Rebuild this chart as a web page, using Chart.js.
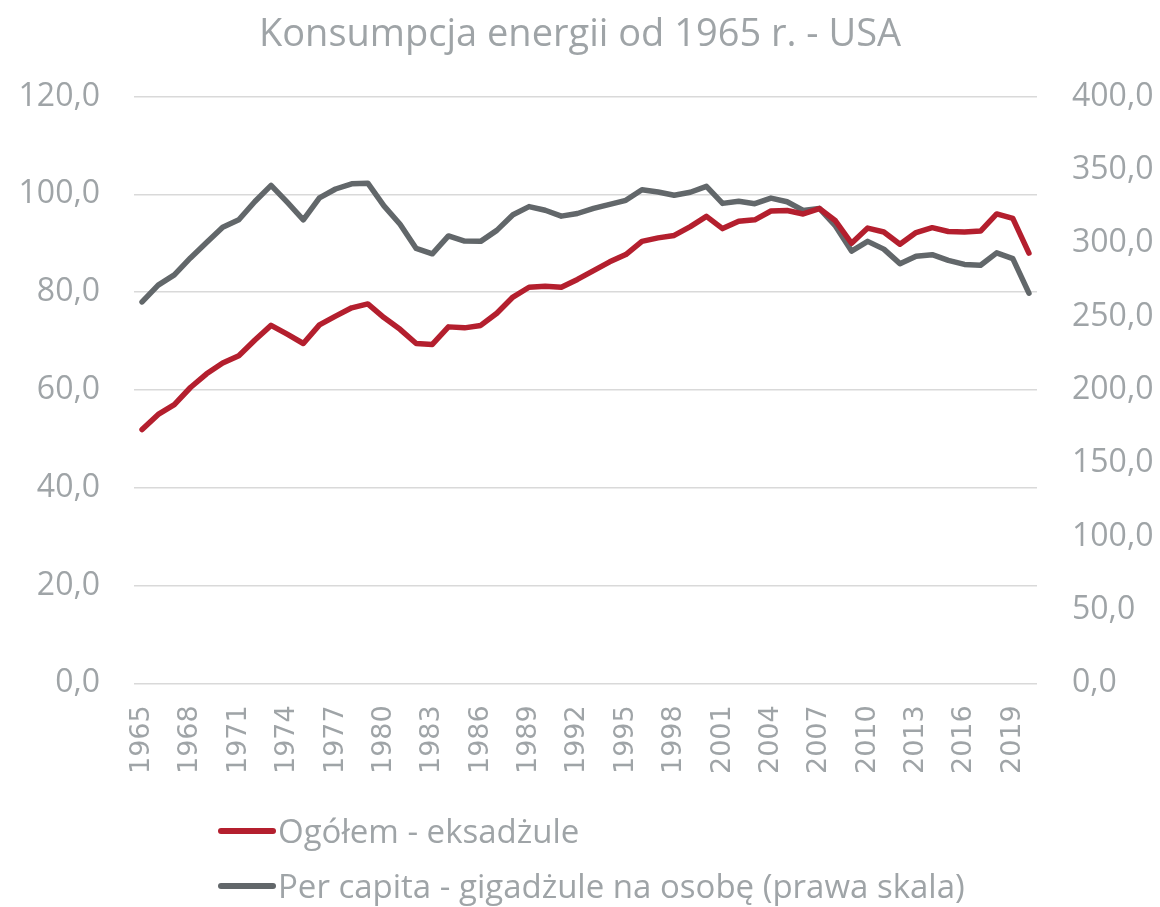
<!DOCTYPE html>
<html>
<head>
<meta charset="utf-8">
<script src="https://cdn.jsdelivr.net/npm/chart.js@4/dist/chart.umd.min.js"></script>
<style>
    body { margin: 0; background: #fff; }
    #wrap { position: relative; width: 1160px; height: 907px; }
    #box { position: absolute; left: 0; top: 0; width: 1160px; height: 817px; }
    #legend { position: absolute; left: 218px; top: 803px; font-family: 'Open Sans', sans-serif; font-size: 33px; color: #9fa4a7; }
    .item { display: flex; align-items: center; height: 55px; }
    .swatch { display: inline-block; width: 58px; height: 6px; border-radius: 3px; margin-right: 2px; }
</style>
</head>
<body>
<div id="wrap">
    <div id="box"><canvas id="chart"></canvas></div>
    <div id="legend"></div>
</div>
<script>
const years = [];
for (let y = 1965; y <= 2020; y++) years.push(String(y));

// Ogółem - eksadżule (lewa skala)
const total = [
    51.9, 55.0, 57.0, 60.5, 63.3, 65.5, 67.0, 70.2, 73.2, 71.4,
    69.5, 73.3, 75.1, 76.8, 77.6, 74.8, 72.4, 69.5, 69.3, 72.9,
    72.7, 73.2, 75.7, 79.0, 81.0, 81.2, 81.0, 82.6, 84.4, 86.2,
    87.7, 90.4, 91.1, 91.6, 93.4, 95.5, 93.0, 94.5, 94.8, 96.6,
    96.7, 96.0, 97.1, 94.6, 90.0, 93.1, 92.3, 89.8, 92.2, 93.2,
    92.4, 92.3, 92.5, 96.0, 95.1, 88.0
];

// Per capita - gigadżule na osobę (prawa skala)
const perCapita = [
    260.0, 271.5, 278.5, 290.0, 300.5, 311.0, 316.0, 328.5, 339.5, 328.0,
    316.0, 331.0, 337.0, 340.5, 341.0, 325.5, 313.0, 296.5, 292.8, 305.0,
    301.5, 301.3, 308.8, 319.5, 325.0, 322.5, 318.5, 320.3, 323.8, 326.5,
    329.3, 336.5, 335.0, 332.7, 334.8, 338.8, 327.2, 328.6, 327.0, 330.8,
    328.3, 322.4, 323.8, 311.8, 294.7, 301.3, 296.0, 286.1, 291.2, 292.2,
    288.3, 285.6, 285.0, 293.5, 289.5, 266.0
];

const textColor = '#9fa4a7';
const gridColor = '#d9d9d9';

function fmt(v) {
    return v.toFixed(1).replace('.', ',');
}

const lineDefaults = {
    borderWidth: 5.5,
    pointRadius: 0,
    tension: 0,
    borderCapStyle: 'round',
    borderJoinStyle: 'round',
    fill: false
};

const ctx = document.getElementById('chart').getContext('2d');
const chart = new Chart(ctx, {
    type: 'line',
    data: {
        labels: years,
        datasets: [{
            label: 'Ogółem - eksadżule',
            data: total,
            borderColor: '#b41f2e',
            backgroundColor: '#b41f2e',
            yAxisID: 'y',
            ...lineDefaults
        },
        {
            label: 'Per capita - gigadżule na osobę (prawa skala)',
            data: perCapita,
            borderColor: '#62676a',
            backgroundColor: '#62676a',
            yAxisID: 'y2',
            ...lineDefaults
        }]
    },
    options: {
        responsive: true,
        maintainAspectRatio: false,
        animation: false,
        layout: {
            padding: { left: 0, right: 0, top: 0, bottom: 21 }
        },
        plugins: {
            legend: { display: false },
            tooltip: { enabled: false },
            title: {
                display: true,
                text: 'Konsumpcja energii od 1965 r. - USA',
                color: textColor,
                font: { family: 'Open Sans', size: 38, weight: 'normal' },
                padding: { top: 12, bottom: 39 }
            }
        },
        scales: {
            x: {
                offset: true,
                grid: { display: false, drawTicks: false },
                border: { display: false },
                ticks: {
                    color: textColor,
                    font: { family: "'DejaVu Sans', sans-serif", size: 27 },
                    autoSkip: false,
                    minRotation: 90,
                    maxRotation: 90,
                    padding: 22,
                    callback: function (value, index) {
                        return index % 3 === 0 ? this.getLabelForValue(value) : null;
                    }
                }
            },
            y: {
                position: 'left',
                min: 0,
                max: 120,
                afterFit: (scale) => { scale.width = 134; },
                grid: { color: gridColor, lineWidth: 1.5, drawTicks: false },
                border: { display: false },
                ticks: {
                    stepSize: 20,
                    color: textColor,
                    font: { family: 'Open Sans', size: 32 },
                    padding: 34,
                    callback: (v) => fmt(v)
                }
            },
            y2: {
                position: 'right',
                min: 0,
                max: 400,
                afterFit: (scale) => { scale.width = 123; },
                grid: { display: false, drawTicks: false },
                border: { display: false },
                ticks: {
                    stepSize: 50,
                    color: textColor,
                    font: { family: 'Open Sans', size: 32 },
                    padding: 35,
                    callback: (v) => fmt(v)
                }
            }
        }
    }
});

// legend below the chart, one item per line
const legend = document.getElementById('legend');
chart.data.datasets.forEach(ds => {
    const item = document.createElement('div');
    item.className = 'item';
    const swatch = document.createElement('span');
    swatch.className = 'swatch';
    swatch.style.background = ds.borderColor;
    const label = document.createElement('span');
    label.textContent = ds.label;
    item.appendChild(swatch);
    item.appendChild(label);
    legend.appendChild(item);
});
</script>
</body>
</html>
